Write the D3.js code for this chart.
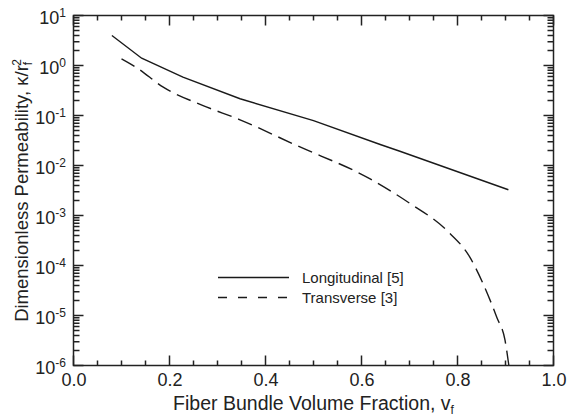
<!DOCTYPE html>
<html>
<head>
<meta charset="utf-8">
<script src="https://cdn.jsdelivr.net/npm/d3@7"></script>
<style>
  html, body { margin: 0; padding: 0; overflow: hidden; background: #fff; }
  svg { display: block; }
  text { font-family: "Liberation Sans", Arial, sans-serif; fill: #222; }
</style>
</head>
<body>
<script>

var width = 567, height = 416;
var margin = {top: 15.5, right: 13.5, bottom: 50.5, left: 73.5};

// longitudinal [5], solid
var longX = [0.080, 0.142, 0.228, 0.347, 0.500, 0.639, 0.680, 0.906];
var longY = [3.98, 1.40, 0.583, 0.216, 0.079, 0.0263, 0.0193, 0.00327];

// transverse [3], dashed
var transX = [0.100, 0.132, 0.187, 0.270, 0.347, 0.465, 0.618, 0.701, 0.778, 0.826, 0.853, 0.882, 0.899, 0.907];
var transY = [1.36, 0.90, 0.368, 0.158, 0.082, 0.0251, 0.0054, 0.00174, 5.0e-4, 1.45e-4, 4.4e-5, 9.1e-6, 3.2e-6, 1.0e-6];

var xTicks = [0, 0.2, 0.4, 0.6, 0.8, 1.0];
var yExps = [1, 0, -1, -2, -3, -4, -5, -6];
var legendLabels = ["Longitudinal [5]", "Transverse [3]"];

var x = d3.scaleLinear().domain([0, 1]).range([margin.left, width - margin.right]);
var y = d3.scaleLog().domain([1e-6, 10]).range([height - margin.bottom, margin.top]);

var svg = d3.select("body").append("svg")
    .attr("width", width)
    .attr("height", height);

var y0 = height - margin.bottom, x1 = width - margin.right;

var xMinor = d3.range(1, 20).map(function(i) { return i * 0.05; })
    .filter(function(d, i) { return (i + 1) % 4 !== 0; });
var yMajor = yExps.map(function(e) { return Math.pow(10, e); });
var yMinor = [];
yExps.slice(1).forEach(function(e) {
  for (var k = 2; k <= 9; k++) yMinor.push(k * Math.pow(10, e));
});

// tick labels via axes
svg.append("g").attr("transform", "translate(0," + y0 + ")")
  .call(d3.axisBottom(x).tickValues(xTicks).tickSize(0).tickPadding(8).tickFormat(d3.format(".1f")))
  .call(function(g) { g.select(".domain").remove(); })
  .selectAll("text").attr("font-size", 18).attr("fill", "#222");

var yl = svg.append("g").attr("transform", "translate(" + margin.left + ",0)")
  .call(d3.axisLeft(y).tickValues(yMajor).tickSize(0).tickPadding(7.5))
  .call(function(g) { g.select(".domain").remove(); });
yl.selectAll(".tick text")
    .text(null)
    .attr("font-size", 18)
    .attr("dy", "0.42em")
    .each(function(d) {
      var t = d3.select(this);
      t.append("tspan").text("10");
      t.append("tspan").attr("font-size", 12).attr("dy", -7).text(Math.round(Math.log10(d)));
    });

var line = d3.line()
    .x(function(d) { return x(d[0]); })
    .y(function(d) { return y(d[1]); });

svg.append("path")
    .datum(d3.zip(longX, longY))
    .attr("fill", "none").attr("stroke", "#1a1a1a").attr("stroke-width", 1.4)
    .attr("d", line);

svg.append("path")
    .datum(d3.zip(transX, transY))
    .attr("fill", "none").attr("stroke", "#1a1a1a").attr("stroke-width", 1.4)
    .attr("stroke-dasharray", "15,7")
    .attr("d", line.curve(d3.curveMonotoneX));

// legend
var leg = svg.append("g");
legendLabels.forEach(function(lab, i) {
  var ly = 277.5 + i * 20;
  leg.append("line")
      .attr("x1", 218).attr("x2", 289).attr("y1", ly).attr("y2", ly)
      .attr("stroke", "#1a1a1a").attr("stroke-width", 1.4)
      .attr("stroke-dasharray", i ? "9,11" : null);
  leg.append("text")
      .attr("x", 302).attr("y", ly).attr("dy", "0.35em")
      .attr("font-size", 15)
      .text(lab);
});

// axis titles
var xt = svg.append("text")
    .attr("x", (margin.left + x1) / 2).attr("y", 410)
    .attr("text-anchor", "middle")
    .attr("font-size", 19.5)
    .text("Fiber Bundle Volume Fraction, v");
xt.append("tspan").attr("font-size", 12).attr("dy", 4).text("f");

var yt = svg.append("text")
    .attr("transform", "translate(28," + (margin.top + y0) / 2 + ") rotate(-90)")
    .attr("text-anchor", "middle")
    .attr("font-size", 18.5)
    .text("Dimensionless Permeability, \u03ba/r");
yt.append("tspan").attr("font-size", 12).attr("dy", 4).text("f");
yt.append("tspan").attr("font-size", 12).attr("dx", -4).attr("dy", -11).text("2");

// frame
svg.append("rect")
    .attr("x", margin.left).attr("y", margin.top)
    .attr("width", x1 - margin.left).attr("height", y0 - margin.top)
    .attr("fill", "none").attr("stroke", "#222").attr("stroke-width", 1.5);

// tick marks, inside on all four sides, one path per side
function xTickPath(base, dir) {
  var p = d3.path();
  xTicks.forEach(function(d) { p.moveTo(x(d), base); p.lineTo(x(d), base + dir * 10); });
  xMinor.forEach(function(d) { p.moveTo(x(d), base); p.lineTo(x(d), base + dir * 5); });
  return p.toString();
}
function yTickPath(base, dir) {
  var p = d3.path();
  yMajor.forEach(function(d) { p.moveTo(base, y(d)); p.lineTo(base + dir * 10, y(d)); });
  yMinor.forEach(function(d) { p.moveTo(base, y(d)); p.lineTo(base + dir * 6, y(d)); });
  return p.toString();
}

svg.append("g")
    .attr("fill", "none").attr("stroke", "#222").attr("stroke-width", 1.5)
  .selectAll("path")
  .data([xTickPath(y0, -1), xTickPath(margin.top, 1), yTickPath(margin.left, 1), yTickPath(x1, -1)])
  .enter().append("path")
    .attr("d", function(d) { return d; });

</script>
</body>
</html>
